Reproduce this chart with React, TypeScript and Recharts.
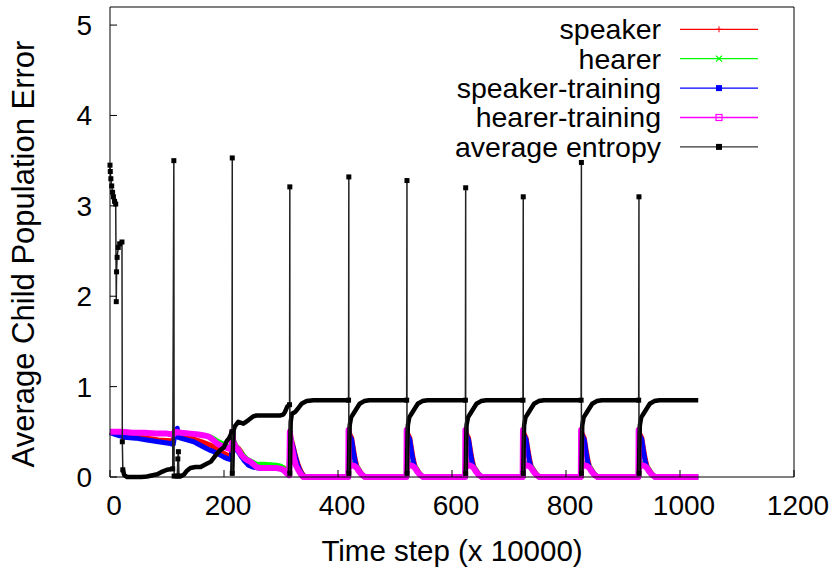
import React from "react";
import { LineChart, Line, XAxis, YAxis, Legend } from "recharts";

type P = [number, number | null];

const xTicks = [0, 200, 400, 600, 800, 1000, 1200];
const yTicks = [0, 1, 2, 3, 4, 5];
const seriesNames = ["speaker", "hearer", "speaker-training", "hearer-training", "average entropy"];
const seriesColors = ["#ff0000", "#00ff00", "#0000ff", "#ff00ff", "#000000"];

const speaker: P[] = [
  [0, 0.5], [12, 0.48], [25, 0.46], [45, 0.45], [65, 0.43], [85, 0.41], [106, 0.4], [111, 0.39],
  [113, 0.5], [118, 0.47], [124, 0.45], [135, 0.44], [147, 0.42], [156, 0.4], [165, 0.38], [177, 0.35], [188, 0.31], [200, 0.26], [207, 0.24], [213, 0.23],
  [214.5, 0.47], [216, 0.4], [218, 0.36], [225, 0.32], [231, 0.27], [237, 0.2], [243, 0.16], [250, 0.13], [260, 0.12], [290, 0.12], [305, 0.1], [311, 0.06], [314.5, 0.03],
  [315.5, 0.5], [318, 0.42], [321, 0.35], [324, 0.27], [327, 0.2], [330, 0.14], [333, 0.09], [337, 0.04], [342, 0], [418.5, 0],
  [419, 0.5], [421, 0.47], [424, 0.43], [427, 0.31], [430, 0.2], [433, 0.12], [437, 0.08], [441, 0.04], [447, 0], [520.5, 0],
  [521, 0.5], [523, 0.47], [526, 0.43], [529, 0.31], [532, 0.2], [535, 0.12], [539, 0.08], [543, 0.04], [549, 0], [623.5, 0],
  [624, 0.5], [626, 0.47], [629, 0.43], [632, 0.31], [635, 0.2], [638, 0.12], [642, 0.08], [646, 0.04], [652, 0], [724.5, 0],
  [725, 0.5], [727, 0.47], [730, 0.43], [733, 0.31], [736, 0.2], [739, 0.12], [743, 0.08], [747, 0.04], [753, 0], [826.5, 0],
  [827, 0.5], [829, 0.47], [832, 0.43], [835, 0.31], [838, 0.2], [841, 0.12], [845, 0.08], [849, 0.04], [855, 0], [927.5, 0],
  [928, 0.5], [930, 0.47], [933, 0.43], [936, 0.31], [939, 0.2], [942, 0.12], [946, 0.08], [950, 0.04], [956, 0], [1032, 0],
];

const hearer: P[] = [
  [0, 0.5], [20, 0.5], [40, 0.49], [60, 0.49], [80, 0.48], [100, 0.48], [111, 0.47],
  [113, 0.5], [125, 0.49], [141, 0.48], [155, 0.47], [165, 0.46], [172, 0.45], [177, 0.44], [183, 0.42], [188, 0.4], [197, 0.37], [206, 0.34], [213, 0.32],
  [214.5, 0.5], [216, 0.42], [220, 0.36], [225, 0.31], [230, 0.27], [234, 0.24], [240, 0.2], [246, 0.18], [252, 0.16], [257, 0.14], [270, 0.14], [292, 0.13], [300, 0.12], [306, 0.09], [314.5, 0.03],
  [315.5, 0.5], [317, 0.42], [320, 0.32], [323, 0.22], [326, 0.15], [330, 0.1], [335, 0.05], [340, 0], [418.5, 0],
  [419, 0.5], [419.5, 0.3], [420, 0.14], [425, 0.15], [429, 0.14], [434, 0.11], [438, 0.06], [442, 0.03], [448, 0], [520.5, 0],
  [521, 0.5], [521.5, 0.3], [522, 0.14], [527, 0.15], [531, 0.14], [536, 0.11], [540, 0.06], [544, 0.03], [550, 0], [623.5, 0],
  [624, 0.5], [624.5, 0.3], [625, 0.14], [630, 0.15], [634, 0.14], [639, 0.11], [643, 0.06], [647, 0.03], [653, 0], [724.5, 0],
  [725, 0.5], [725.5, 0.3], [726, 0.14], [731, 0.15], [735, 0.14], [740, 0.11], [744, 0.06], [748, 0.03], [754, 0], [826.5, 0],
  [827, 0.5], [827.5, 0.3], [828, 0.14], [833, 0.15], [837, 0.14], [842, 0.11], [846, 0.06], [850, 0.03], [856, 0], [927.5, 0],
  [928, 0.5], [928.5, 0.3], [929, 0.14], [934, 0.15], [938, 0.14], [943, 0.11], [947, 0.06], [951, 0.03], [957, 0], [1032, 0],
];

const speakerTraining: P[] = [
  [0, 0.49], [10, 0.47], [25, 0.44], [45, 0.43], [65, 0.41], [85, 0.39], [106, 0.37], [111, 0.36],
  [113, 0.44], [118, 0.54], [119, 0.44], [124, 0.43], [135, 0.41], [147, 0.39], [156, 0.36], [165, 0.33], [174, 0.3], [182, 0.28], [191, 0.25], [200, 0.22], [207, 0.2], [213, 0.19],
  [214.5, 0.45], [215.5, 0.35], [218, 0.32], [222, 0.3], [225, 0.28], [231, 0.22], [237, 0.17], [243, 0.13], [250, 0.11], [260, 0.1], [280, 0.1], [300, 0.09], [310, 0.05], [314.5, 0.02],
  [315.5, 0.48], [318, 0.4], [321, 0.33], [324, 0.25], [327, 0.18], [330, 0.12], [333, 0.07], [337, 0.03], [341, 0], [418.5, 0],
  [419, 0.48], [421, 0.45], [424, 0.41], [427, 0.28], [430, 0.17], [433, 0.1], [437, 0.07], [441, 0.03], [447, 0], [520.5, 0],
  [521, 0.48], [523, 0.45], [526, 0.41], [529, 0.28], [532, 0.17], [535, 0.1], [539, 0.07], [543, 0.03], [549, 0], [623.5, 0],
  [624, 0.48], [626, 0.45], [629, 0.41], [632, 0.28], [635, 0.17], [638, 0.1], [642, 0.07], [646, 0.03], [652, 0], [724.5, 0],
  [725, 0.48], [727, 0.45], [730, 0.41], [733, 0.28], [736, 0.17], [739, 0.1], [743, 0.07], [747, 0.03], [753, 0], [826.5, 0],
  [827, 0.48], [829, 0.45], [832, 0.41], [835, 0.28], [838, 0.17], [841, 0.1], [845, 0.07], [849, 0.03], [855, 0], [927.5, 0],
  [928, 0.48], [930, 0.45], [933, 0.41], [936, 0.28], [939, 0.17], [942, 0.1], [946, 0.07], [950, 0.03], [956, 0], [1032, 0],
];

const hearerTraining: P[] = [
  [0, 0.5], [20, 0.5], [40, 0.49], [60, 0.49], [80, 0.48], [100, 0.48], [111, 0.47],
  [113, 0.5], [125, 0.49], [141, 0.48], [155, 0.47], [165, 0.46], [172, 0.45], [177, 0.43], [183, 0.4], [188, 0.37], [197, 0.34], [206, 0.32], [213, 0.3],
  [214.5, 0.5], [216, 0.4], [220, 0.34], [225, 0.3], [230, 0.25], [234, 0.22], [240, 0.19], [246, 0.17], [252, 0.14], [257, 0.11], [263, 0.1], [280, 0.1], [292, 0.1], [300, 0.09], [304, 0.08], [310, 0.04], [314.5, 0.02],
  [315.5, 0.5], [317, 0.4], [320, 0.3], [323, 0.2], [326, 0.13], [330, 0.08], [335, 0.03], [339, 0], [418, 0],
  [418.5, 0.52], [419, 0.3], [419.5, 0.1], [421, 0.13], [425, 0.13], [429, 0.12], [433, 0.1], [437, 0.06], [441, 0.03], [447, 0], [520, 0],
  [520.5, 0.52], [521, 0.3], [521.5, 0.1], [523, 0.13], [527, 0.13], [531, 0.12], [535, 0.1], [539, 0.06], [543, 0.03], [549, 0], [623, 0],
  [623.5, 0.52], [624, 0.3], [624.5, 0.1], [626, 0.13], [630, 0.13], [634, 0.12], [638, 0.1], [642, 0.06], [646, 0.03], [652, 0], [724, 0],
  [724.5, 0.52], [725, 0.3], [725.5, 0.1], [727, 0.13], [731, 0.13], [735, 0.12], [739, 0.1], [743, 0.06], [747, 0.03], [753, 0], [826, 0],
  [826.5, 0.52], [827, 0.3], [827.5, 0.1], [829, 0.13], [833, 0.13], [837, 0.12], [841, 0.1], [845, 0.06], [849, 0.03], [855, 0], [927, 0],
  [927.5, 0.52], [928, 0.3], [928.5, 0.1], [930, 0.13], [934, 0.13], [938, 0.12], [942, 0.1], [946, 0.06], [950, 0.03], [956, 0], [1032, 0],
];

// average entropy: the dense stretches (drawn heavy) and the sparse jumps (drawn thin, with markers)
const entropyCurve: P[] = [
  [22.5, 0.08], [25, 0.02], [30, 0], [40, 0], [55, 0], [65, 0.005], [75, 0.02], [83, 0.03], [92, 0.06], [100, 0.08], [110, 0.09], [110, null],
  [121, 0.01], [125, 0.01], [130, 0.03], [135, 0.07], [141, 0.1], [150, 0.11], [159, 0.11], [168, 0.14], [177, 0.17], [183, 0.22], [188, 0.26], [194, 0.3], [200, 0.33], [205, 0.4], [209, 0.43], [214, 0.5], [214, null],
  [214.5, 0.04], [215, 0.17], [215.5, 0.3], [217, 0.52], [219, 0.56], [225, 0.61], [234, 0.59], [243, 0.63], [251, 0.67], [257, 0.68], [270, 0.68], [285, 0.68], [298, 0.68], [304, 0.69], [307, 0.72], [311, 0.78], [315, 0.8], [315, null],
  [315.5, 0.04], [316, 0.17], [316.5, 0.45], [317, 0.61], [319, 0.7], [325, 0.72], [330, 0.76], [336, 0.81], [345, 0.84], [357, 0.85], [418.5, 0.85], [418.5, null],
  [419, 0.04], [419.5, 0.22], [420, 0.43], [420.5, 0.57], [423, 0.66], [427, 0.7], [433, 0.76], [438, 0.81], [446, 0.84], [455, 0.85], [520.5, 0.85], [520.5, null],
  [521, 0.04], [521.5, 0.22], [522, 0.43], [522.5, 0.57], [525, 0.66], [529, 0.7], [535, 0.76], [540, 0.81], [548, 0.84], [557, 0.85], [623.5, 0.85], [623.5, null],
  [624, 0.04], [624.5, 0.22], [625, 0.43], [625.5, 0.57], [628, 0.66], [632, 0.7], [638, 0.76], [643, 0.81], [651, 0.84], [660, 0.85], [724.5, 0.85], [724.5, null],
  [725, 0.04], [725.5, 0.22], [726, 0.43], [726.5, 0.57], [729, 0.66], [733, 0.7], [739, 0.76], [744, 0.81], [752, 0.84], [761, 0.85], [826.5, 0.85], [826.5, null],
  [827, 0.04], [827.5, 0.22], [828, 0.43], [828.5, 0.57], [831, 0.66], [835, 0.7], [841, 0.76], [846, 0.81], [854, 0.84], [863, 0.85], [927.5, 0.85], [927.5, null],
  [928, 0.04], [928.5, 0.22], [929, 0.43], [929.5, 0.57], [932, 0.66], [936, 0.7], [942, 0.76], [947, 0.81], [955, 0.84], [964, 0.85], [1032, 0.85],
];

const entropySpikes: P[] = [
  [0, 3.45], [0.5, 3.38], [1.5, 3.3], [3, 3.22], [4.5, 3.15], [6, 3.1], [8, 3.05], [10, 3.02], [11, 1.94], [11.5, 2.27], [12.5, 2.43], [14.5, 2.54], [17, 2.58], [21, 2.6], [21.6, 0.39], [22.5, 0.08], [22.5, null],
  [110, 0.09], [112, 3.5], [112.5, 0.01], [118, 0.01], [119, 0.2], [120, 0.28], [121, 0.01], [121, null],
  [214, 0.5], [214.5, 3.53], [214.5, 0.04], [214.5, null],
  [315, 0.8], [315.5, 3.21], [315.5, 0.04], [315.5, null],
  [418.5, 0.85], [419, 3.32], [419, 0.04], [419, null],
  [520.5, 0.85], [521, 3.28], [521, 0.04], [521, null],
  [623.5, 0.85], [624, 3.2], [624, 0.04], [624, null],
  [724.5, 0.85], [725, 3.1], [725, 0.04], [725, null],
  [826.5, 0.85], [827, 3.48], [827, 0.04], [827, null],
  [927.5, 0.85], [928, 3.1], [928, 0.04],
];

const toRows = (pts: P[]) => pts.map(([x, y]) => ({ x, y }));

const FONT = "'Liberation Sans', Arial, Helvetica, sans-serif";

const SquareDot = (props: any) => {
  const { cx, cy, index } = props;
  if (cx == null || cy == null || Number.isNaN(cy)) return <g key={index} />;
  return <rect key={index} x={cx - 2.5} y={cy - 2.5} width={5} height={5} fill="#000" />;
};

const YTitle = (props: any) => {
  const vb = props.viewBox || { x: 0, y: 7, width: 110, height: 470 };
  const cx = vb.x + 23;
  const cy = vb.y + vb.height / 2 + 12;
  return (
    <text
      x={cx}
      y={cy}
      transform={`rotate(-90, ${cx}, ${cy})`}
      textAnchor="middle"
      dominantBaseline="central"
      fontSize={31}
      fill="#000"
      fontFamily={FONT}
    >
      Average Child Population Error
    </text>
  );
};

const KeyMarker = ({ i, cx, cy }: { i: number; cx: number; cy: number }) => {
  const c = seriesColors[i];
  if (i === 0)
    return (
      <g stroke={c} strokeWidth={1}>
        <line x1={cx - 3} x2={cx + 3} y1={cy} y2={cy} />
        <line x1={cx} x2={cx} y1={cy - 3} y2={cy + 3} />
      </g>
    );
  if (i === 1)
    return (
      <g stroke={c} strokeWidth={1.2}>
        <line x1={cx - 3} x2={cx + 3} y1={cy - 3} y2={cy + 3} />
        <line x1={cx - 3} x2={cx + 3} y1={cy + 3} y2={cy - 3} />
      </g>
    );
  if (i === 3) return <rect x={cx - 3} y={cy - 3} width={6} height={6} fill="none" stroke={c} strokeWidth={1.2} />;
  return <rect x={cx - 3} y={cy - 3} width={6} height={6} fill={c} />;
};

const KeyBox = () => (
  <svg width={833} height={170} style={{ display: "block", fontFamily: FONT }}>
    {seriesNames.map((name, i) => {
      const cy = 29.3 + i * 29.4;
      return (
        <g key={name}>
          <text x={661} y={cy} dy="0.35em" textAnchor="end" fontSize={28.5} fill="#000">
            {name}
          </text>
          <line x1={680} x2={758} y1={cy} y2={cy} stroke={i === 4 ? "#333" : seriesColors[i]} strokeWidth={1.3} />
          <KeyMarker i={i} cx={719} cy={cy} />
        </g>
      );
    })}
  </svg>
);

const tickStyle = { fill: "#000", fontSize: 28, fontFamily: FONT };

export default function App() {
  return (
    <div style={{ position: "absolute", left: 0, top: 0, fontFamily: FONT }}>
      <LineChart width={833} height={569} margin={{ top: 6, right: 38, bottom: 0, left: 0 }}>
        <XAxis
          dataKey="x"
          type="number"
          domain={[0, 1200]}
          ticks={xTicks}
          height={92}
          tickSize={-7}
          tickMargin={25}
          tick={{ ...tickStyle, dx: 4 }}
          axisLine={{ stroke: "#000" }}
          tickLine={{ stroke: "#000" }}
          label={{ value: "Time step (x 10000)", position: "insideBottom", offset: 8, fill: "#000", fontSize: 29.5 }}
        />
        <XAxis
          xAxisId="top"
          orientation="top"
          dataKey="x"
          type="number"
          domain={[0, 1200]}
          ticks={xTicks}
          height={1}
          tickSize={-7}
          tick={false}
          axisLine={{ stroke: "#000" }}
          tickLine={{ stroke: "#000" }}
        />
        <YAxis
          type="number"
          domain={[0, 5.2]}
          ticks={yTicks}
          width={110}
          tickSize={-7}
          tickMargin={25}
          tick={tickStyle}
          axisLine={{ stroke: "#000" }}
          tickLine={{ stroke: "#000" }}
          label={<YTitle />}
        />
        <YAxis
          yAxisId="right"
          orientation="right"
          type="number"
          domain={[0, 5.2]}
          ticks={yTicks}
          width={1}
          tickSize={-7}
          tick={false}
          axisLine={{ stroke: "#000" }}
          tickLine={{ stroke: "#000" }}
        />
        <Legend
          layout="vertical"
          align="center"
          verticalAlign="middle"
          wrapperStyle={{ left: 0, top: 0, width: 833, height: 170 }}
          content={() => <KeyBox />}
        />
        <Line data={toRows(speaker)} dataKey="y" name={seriesNames[0]} stroke={seriesColors[0]} strokeWidth={5} strokeLinejoin="round" dot={false} isAnimationActive={false} />
        <Line data={toRows(hearer)} dataKey="y" name={seriesNames[1]} stroke={seriesColors[1]} strokeWidth={5} strokeLinejoin="round" dot={false} isAnimationActive={false} />
        <Line data={toRows(speakerTraining)} dataKey="y" name={seriesNames[2]} stroke={seriesColors[2]} strokeWidth={5} strokeLinejoin="round" dot={false} isAnimationActive={false} />
        <Line data={toRows(hearerTraining)} dataKey="y" name={seriesNames[3]} stroke={seriesColors[3]} strokeWidth={6} strokeLinejoin="round" dot={false} isAnimationActive={false} />
        <Line data={toRows(entropyCurve)} dataKey="y" name={seriesNames[4]} stroke="#000" strokeWidth={4.5} strokeLinejoin="round" dot={false} isAnimationActive={false} />
        <Line data={toRows(entropySpikes)} dataKey="y" name={seriesNames[4]} stroke="#222" strokeWidth={1.5} dot={SquareDot} isAnimationActive={false} />
      </LineChart>
    </div>
  );
}
